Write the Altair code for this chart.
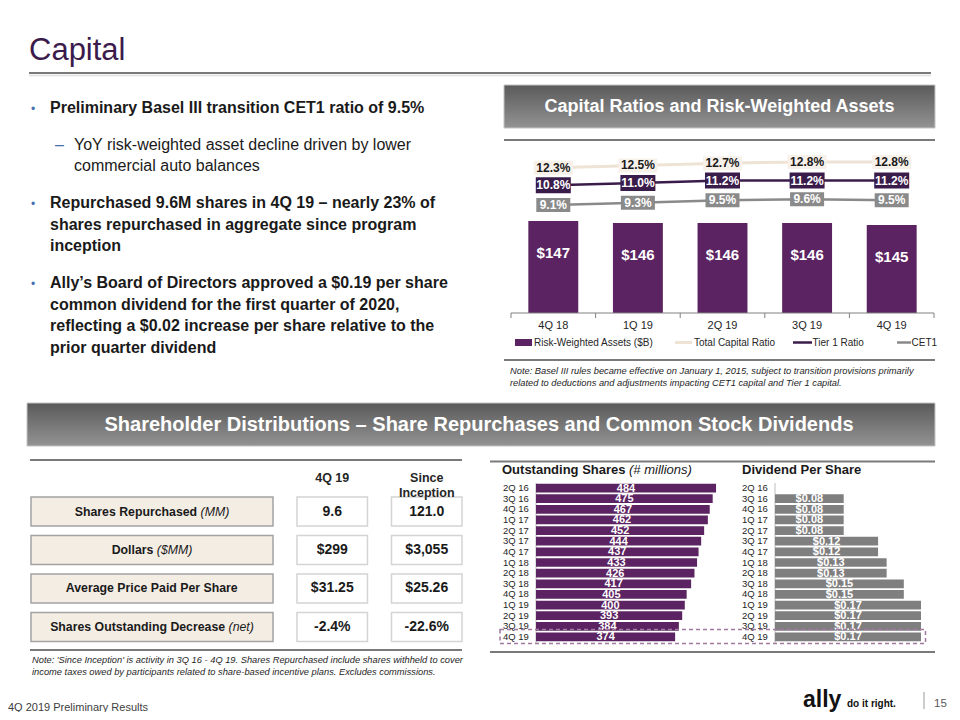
import altair as alt
import pandas as pd

# ---------------- data ----------------
quarters = ["4Q 18", "1Q 19", "2Q 19", "3Q 19", "4Q 19"]
rwa_bn = [147, 146, 146, 146, 145]
total_capital = [12.3, 12.5, 12.7, 12.8, 12.8]
tier1_ratio = [10.8, 11.0, 11.2, 11.2, 11.2]
cet1_ratio = [9.1, 9.3, 9.5, 9.6, 9.5]

share_quarters = ["2Q 16", "3Q 16", "4Q 16", "1Q 17", "2Q 17", "3Q 17", "4Q 17", "1Q 18",
                  "2Q 18", "3Q 18", "4Q 18", "1Q 19", "2Q 19", "3Q 19", "4Q 19"]
shares_out = [484, 475, 467, 462, 452, 444, 437, 433, 426, 417, 405, 400, 393, 384, 374]
dividend = [0, 0.08, 0.08, 0.08, 0.08, 0.12, 0.12, 0.13, 0.13, 0.15, 0.15, 0.17, 0.17, 0.17, 0.17]

table_rows = ["Shares Repurchased", "Dollars", "Average Price Paid Per Share", "Shares Outstanding Decrease"]
table_units = ["(MM)", "($MM)", "", "(net)"]
table_cols = ["4Q 19", "Since Inception"]
table_q4 = ["9.6", "$299", "$31.25", "-2.4%"]
table_since = ["121.0", "$3,055", "$25.26", "-22.6%"]

# ---------------- helpers ----------------
OX = OY = 8
def X(v): return v - OX
def Y(v): return v - OY

F = "Liberation Sans"
one = pd.DataFrame({"k": [0]})
PURPLE = "#5b2361"
TIER = "#3a1c4b"
CET = "#8a8a8a"
TOT = "#eee3d5"
GRAYBAR = "#7f7f7f"
INK = "#1a1a1a"

layers = []

def text(x, y, s, size, color=INK, weight="normal", style="normal", align="left",
         baseline="alphabetic", lh=None):
    kw = dict(text=s, fontSize=size, color=color, fontWeight=weight, fontStyle=style,
              align=align, baseline=baseline, font=F)
    if lh:
        kw["lineHeight"] = lh
    return alt.Chart(one).mark_text(**kw).encode(x=alt.value(X(x)), y=alt.value(Y(y)))

def hrule(x1, x2, y, color, w, dash=None):
    kw = dict(color=color, strokeWidth=w)
    if dash:
        kw["strokeDash"] = dash
    return alt.Chart(one).mark_rule(**kw).encode(
        x=alt.value(X(x1)), x2=alt.value(X(x2)), y=alt.value(Y(y)))

def vrule(x, y1, y2, color, w):
    return alt.Chart(one).mark_rule(color=color, strokeWidth=w).encode(
        x=alt.value(X(x)), y=alt.value(Y(y1)), y2=alt.value(Y(y2)))

def box(x1, y1, x2, y2, fill, stroke=None, sw=1, dash=None, fo=1):
    kw = dict(fill=fill, fillOpacity=fo)
    if stroke:
        kw["stroke"] = stroke
        kw["strokeWidth"] = sw
    if dash:
        kw["strokeDash"] = dash
    return alt.Chart(one).mark_rect(**kw).encode(
        x=alt.value(X(x1)), x2=alt.value(X(x2)), y=alt.value(Y(y1)), y2=alt.value(Y(y2)))

grad = alt.LinearGradient(
    gradient="linear",
    stops=[alt.GradientStop(color="#5a5a5a", offset=0), alt.GradientStop(color="#939393", offset=1)],
    x1=0, x2=0, y1=0, y2=1)

# ---------------- slide title & bullets ----------------
layers.append(text(29, 59.5, "Capital", 31, color="#3b1b4b"))
layers.append(hrule(29, 931, 73, "#7a7a7a", 2))
layers.append(hrule(29, 931, 75.5, "#e0e0e0", 1.5))

BLUE = "#4a6fae"
layers.append(text(31, 112.7, "•", 12, color=BLUE))
layers.append(text(50, 112.7, "Preliminary Basel III transition CET1 ratio of 9.5%", 16, weight="bold"))
layers.append(text(55, 150, "–", 16, color=BLUE))
layers.append(text(74, 150, ["YoY risk-weighted asset decline driven by lower",
                              "commercial auto balances"], 16, lh=20.7))
layers.append(text(31, 208.3, "•", 12, color=BLUE))
layers.append(text(50, 208.3, ["Repurchased 9.6M shares in 4Q 19 – nearly 23% of",
                               "shares repurchased in aggregate since program",
                               "inception"], 16, weight="bold", lh=21.3))
layers.append(text(31, 288.3, "•", 12, color=BLUE))
layers.append(text(50, 288.3, ["Ally’s Board of Directors approved a $0.19 per share",
                               "common dividend for the first quarter of 2020,",
                               "reflecting a $0.02 increase per share relative to the",
                               "prior quarter dividend"], 16, weight="bold", lh=21.5))

# ---------------- top-right chart ----------------
layers.append(box(504, 85, 935, 128, grad, stroke="#c4c4c4"))
layers.append(text(719.5, 106.5, "Capital Ratios and Risk-Weighted Assets", 18, color="white",
                   weight="bold", align="center", baseline="middle"))
layers.append(hrule(504, 935, 140, "#7a7a7a", 2))

top_df = pd.DataFrame({"q": quarters, "rwa": rwa_bn, "total": total_capital,
                       "tier1": tier1_ratio, "cet1": cet1_ratio})
xq_band = alt.Scale(type="band", domain=quarters, range=[X(511), X(934)],
                    paddingInner=0.41, paddingOuter=0.205)
xq_point = alt.Scale(type="point", domain=quarters, range=[X(511), X(934)], padding=0.5)
xq_edges = alt.Scale(type="band", domain=quarters, range=[X(511), X(934)],
                     paddingInner=0, paddingOuter=0)
y_rwa = alt.Scale(domain=[101, 147], range=[Y(313), Y(221)], zero=False)
y_ratio = alt.Scale(domain=[9.1, 12.8], range=[Y(205), Y(162)], zero=False)

layers.append(
    alt.Chart(top_df).transform_calculate(base="101").mark_bar(color=PURPLE).encode(
        x=alt.X("q:N", scale=xq_band, axis=None),
        y=alt.Y("rwa:Q", scale=y_rwa, axis=None),
        y2="base:Q"))
layers.append(
    alt.Chart(top_df).transform_calculate(lbl="'$' + datum.rwa").mark_text(
        font=F, fontSize=15, fontWeight="bold", color="white", baseline="middle", dy=32).encode(
        x=alt.X("q:N", scale=xq_point, axis=None),
        y=alt.Y("rwa:Q", scale=y_rwa, axis=None),
        text="lbl:N"))

def series_layers(field, line_color, lw, box_fill, box_w, box_h, txt_color):
    base = alt.Chart(top_df).encode(
        x=alt.X("q:N", scale=xq_point, axis=None),
        y=alt.Y(f"{field}:Q", scale=y_ratio, axis=None))
    line = base.mark_line(color=line_color, strokeWidth=lw)
    tick = base.mark_tick(color=box_fill, size=box_w, thickness=box_h, opacity=1,
                          orient="horizontal")
    lab = base.transform_calculate(lbl=f"format(datum.{field}, '.1f') + '%'").mark_text(
        font=F, fontSize=12, fontWeight="bold", color=txt_color, baseline="middle").encode(
        text="lbl:N")
    return [line, tick, lab]

layers += series_layers("total", TOT, 3, "#f7f1ea", 39, 14, INK)
layers += series_layers("tier1", TIER, 2.5, TIER, 35, 16, "white")
layers += series_layers("cet1", CET, 2.5, CET, 34, 14, "white")

# axis line, ticks and labels
layers.append(hrule(511, 934, 313, "#808080", 1))
layers.append(
    alt.Chart(top_df).mark_rule(color="#808080", strokeWidth=1).encode(
        x=alt.X("q:N", scale=xq_edges, axis=None, bandPosition=0),
        y=alt.value(Y(313)), y2=alt.value(Y(318))))
layers.append(vrule(934, 313, 318, "#808080", 1))
layers.append(
    alt.Chart(top_df).mark_text(font=F, fontSize=11, color="#262626", baseline="middle").encode(
        x=alt.X("q:N", scale=xq_point, axis=None), y=alt.value(Y(325.5)), text="q:N"))

# legend
LG = 10
layers.append(box(515, 339, 532, 346, PURPLE))
layers.append(text(534, 342.5, "Risk-Weighted Assets ($B)", LG, color="#262626", baseline="middle"))
layers.append(hrule(675, 692, 342.5, TOT, 3))
layers.append(text(694, 342.5, "Total Capital Ratio", LG, color="#262626", baseline="middle"))
layers.append(hrule(793, 812, 342.5, TIER, 2.5))
layers.append(text(812.5, 342.5, "Tier 1 Ratio", LG, color="#262626", baseline="middle"))
layers.append(hrule(897, 911, 342.5, CET, 2.5))
layers.append(text(911.5, 342.5, "CET1", LG, color="#262626", baseline="middle"))

layers.append(hrule(504, 935, 360, "#7a7a7a", 2))
layers.append(text(510, 373.5, ["Note: Basel III rules became effective on January 1, 2015, subject to transition provisions primarily",
                                "related to deductions and adjustments impacting CET1 capital and Tier 1 capital."],
                   9.3, color="#262626", style="italic", lh=12))

# ---------------- bottom section ----------------
layers.append(box(27, 403, 935, 446, grad, stroke="#c4c4c4"))
layers.append(text(479, 425, "Shareholder Distributions – Share Repurchases and Common Stock Dividends", 20,
                   color="white", weight="bold", align="center", baseline="middle"))

# table
layers.append(hrule(30, 462, 460, "#7a7a7a", 2))
layers.append(hrule(30, 462, 650, "#7a7a7a", 2))

row_band = alt.Scale(type="band", domain=table_rows, range=[Y(497), Y(641.5)],
                     paddingInner=0.243, paddingOuter=0)
col_band = alt.Scale(type="band", domain=table_cols, range=[X(297), X(462)],
                     paddingInner=0.254, paddingOuter=0)

layers.append(
    alt.Chart(pd.DataFrame({"row": table_rows})).mark_rect(
        fill="#f4ede4", stroke="#a3a3a3", strokeWidth=1.5).encode(
        x=alt.value(X(31)), x2=alt.value(X(273)),
        y=alt.Y("row:N", scale=row_band, axis=None)))

tdf = pd.DataFrame({
    "row": table_rows * 2,
    "col": [table_cols[0]] * 4 + [table_cols[1]] * 4,
    "val": table_q4 + table_since,
})
layers.append(
    alt.Chart(tdf).mark_rect(fill="white", stroke="#d4d4d4", strokeWidth=1.5).encode(
        x=alt.X("col:N", scale=col_band, axis=None),
        y=alt.Y("row:N", scale=row_band, axis=None)))
layers.append(
    alt.Chart(tdf).mark_text(font=F, fontSize=14, fontWeight="bold", color=INK, baseline="middle").encode(
        x=alt.X("col:N", scale=col_band, axis=None),
        y=alt.Y("row:N", scale=row_band, axis=None),
        text="val:N"))
hdf = pd.DataFrame({"col": table_cols, "hdr": ["4Q 19", "Since\nInception"]})
layers.append(
    alt.Chart(hdf).mark_text(font=F, fontSize=12.5, fontWeight="bold", color="#262626",
                             baseline="middle", lineBreak="\n", lineHeight=15).encode(
        x=alt.X("col:N", scale=col_band, axis=None), y=alt.value(Y(478)), text="hdr:N"))

BW = {' ': 278, '(': 333, ')': 333, '$': 556, 'A': 722, 'D': 722, 'M': 833, 'P': 667, 'R': 722,
      'S': 667, 'O': 778, 'a': 556, 'c': 556, 'd': 611, 'e': 556, 'g': 611, 'h': 611, 'i': 278,
      'l': 278, 'n': 611, 'o': 611, 'p': 611, 'r': 389, 's': 556, 't': 333, 'u': 611, 'v': 556}
RW = {' ': 278, '(': 333, ')': 333, '$': 556, 'M': 833, 'n': 556, 'e': 556, 't': 278}

def tw(s, tbl, size):
    return sum(tbl.get(c, 556) for c in s) * size / 1000

LS = 12.3
for name, unit in zip(table_rows, table_units):
    wm = tw(name, BW, LS)
    wu = tw(unit, RW, LS) if unit else 0
    gap = 0.278 * LS if unit else 0
    start = 152 - (wm + gap + wu) / 2
    rdf = pd.DataFrame({"row": [name], "unit": [unit]})
    layers.append(
        alt.Chart(rdf).mark_text(font=F, fontSize=LS, fontWeight="bold", color=INK,
                                 align="left", baseline="middle").encode(
            x=alt.value(X(start)), y=alt.Y("row:N", scale=row_band, axis=None), text="row:N"))
    if unit:
        layers.append(
            alt.Chart(rdf).mark_text(font=F, fontSize=LS, fontStyle="italic", color=INK,
                                     align="left", baseline="middle").encode(
                x=alt.value(X(start + wm + gap)), y=alt.Y("row:N", scale=row_band, axis=None),
                text="unit:N"))

layers.append(text(32, 663, ["Note: 'Since Inception' is activity in 3Q 16 - 4Q 19. Shares Repurchased include shares withheld to cover",
                             "income taxes owed by participants related to share-based incentive plans. Excludes commissions."],
                   9.3, color="#262626", style="italic", lh=12))

# bar charts
layers.append(hrule(490, 935, 461.5, "#7a7a7a", 2))
layers.append(hrule(490, 935, 652, "#7a7a7a", 2))
layers.append(text(502, 474, "Outstanding Shares", 13, weight="bold"))
layers.append(text(629, 474, "(# millions)", 13, style="italic"))
layers.append(text(742, 474, "Dividend Per Share", 13, weight="bold"))

sh_df = pd.DataFrame({"q": share_quarters, "shares": shares_out, "div": dividend})
yq_band = alt.Scale(type="band", domain=share_quarters, range=[Y(482.7), Y(642.3)],
                    paddingInner=0.18, paddingOuter=0.09)
yq_point = alt.Scale(type="point", domain=share_quarters, range=[Y(482.7), Y(642.3)], padding=0.5)
x_sh = alt.Scale(domain=[0, 500], range=[X(536), X(722)])
x_dv = alt.Scale(domain=[0, 0.17], range=[X(775), X(921)])

layers.append(vrule(536, 483, 643, "#bdbdbd", 1))
layers.append(vrule(775, 483, 643, "#bdbdbd", 1))

layers.append(
    alt.Chart(sh_df).mark_bar(color=PURPLE).encode(
        x=alt.X("shares:Q", scale=x_sh, axis=None),
        y=alt.Y("q:N", scale=yq_band, axis=None)))
layers.append(
    alt.Chart(sh_df).transform_calculate(mid="datum.shares / 2").mark_text(
        font=F, fontSize=11, fontWeight="bold", color="white", baseline="middle", dy=0.5).encode(
        x=alt.X("mid:Q", scale=x_sh, axis=None),
        y=alt.Y("q:N", scale=yq_point, axis=None),
        text="shares:Q"))
layers.append(
    alt.Chart(sh_df).mark_text(font=F, fontSize=9.5, color="#262626", align="left", baseline="middle").encode(
        x=alt.value(X(503)), y=alt.Y("q:N", scale=yq_point, axis=None), text="q:N"))

layers.append(
    alt.Chart(sh_df).mark_bar(color=GRAYBAR).encode(
        x=alt.X("div:Q", scale=x_dv, axis=None),
        y=alt.Y("q:N", scale=yq_band, axis=None)))
layers.append(
    alt.Chart(sh_df).transform_filter("datum.div > 0").transform_calculate(
        mid="datum.div / 2", lbl="'$' + format(datum.div, '.2f')").mark_text(
        font=F, fontSize=11, fontWeight="bold", color="white", baseline="middle", dy=0.5).encode(
        x=alt.X("mid:Q", scale=x_dv, axis=None),
        y=alt.Y("q:N", scale=yq_point, axis=None),
        text="lbl:N"))
layers.append(
    alt.Chart(sh_df).mark_text(font=F, fontSize=9.5, color="#262626", align="left", baseline="middle").encode(
        x=alt.value(X(742)), y=alt.Y("q:N", scale=yq_point, axis=None), text="q:N"))

layers.append(box(500, 629.5, 925.5, 643.5, "white", stroke="#a07a9e", sw=1.5, dash=[4, 3], fo=0))

# ---------------- footer ----------------
layers.append(text(8, 711, "4Q 2019 Preliminary Results", 11, color="#404040"))
layers.append(text(803, 707, "ally", 23, weight="bold", color="#111111"))
layers.append(text(847, 707, "do it right.", 10, weight="bold", color="#111111"))
layers.append(vrule(924, 692, 709, "#9a9a9a", 1))
layers.append(text(934, 707, "15", 11.5, color="#595959"))

chart = alt.layer(*layers).resolve_scale(x="independent", y="independent").properties(
    width=944, height=704, padding=0, autosize=alt.AutoSizeParams(type="none"),
    background="white").configure_view(stroke=None)

chart.save("out.html", embed_options={"renderer": "svg", "actions": False})
